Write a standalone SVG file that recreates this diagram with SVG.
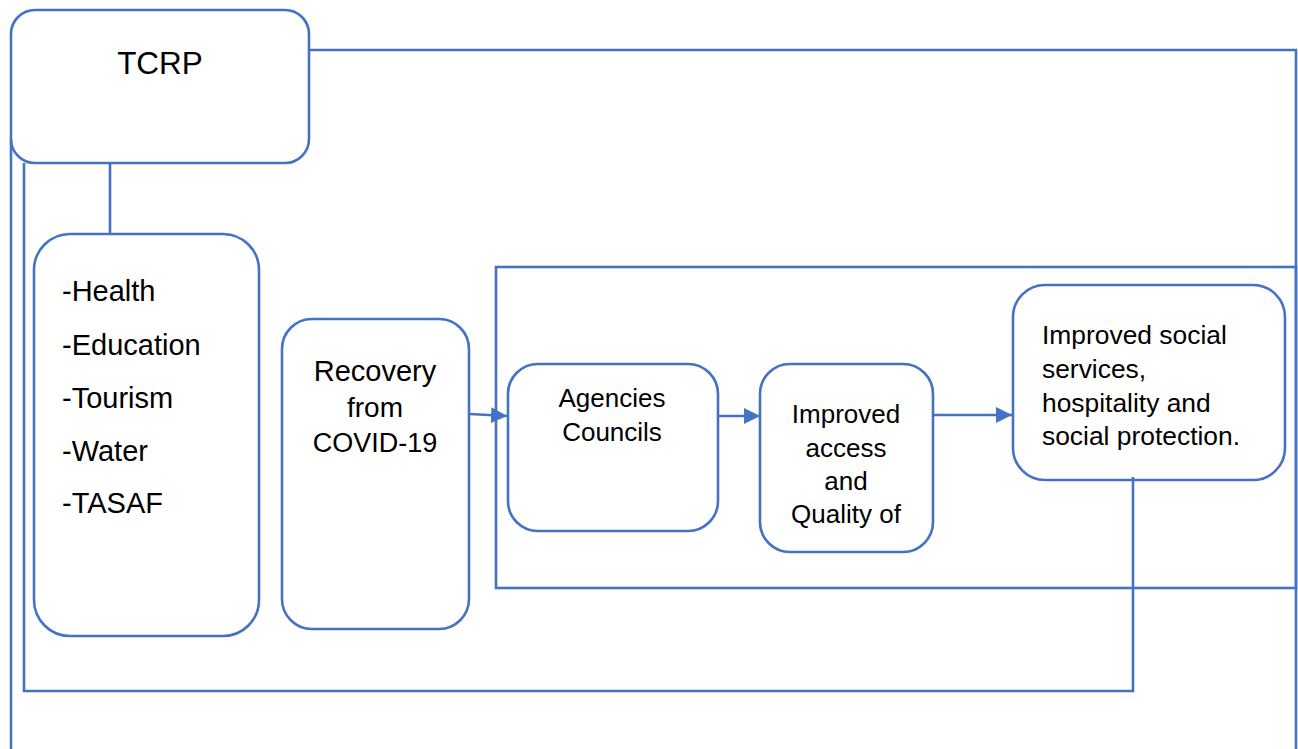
<svg xmlns="http://www.w3.org/2000/svg" width="1298" height="749" viewBox="0 0 1298 749">
<defs>
<style>
.box{fill:none;stroke:#4472C4;stroke-width:2.6}
.ln{fill:none;stroke:#4472C4;stroke-width:2.6}
.t{font-family:"Liberation Sans",Arial,sans-serif;fill:#000}
</style>
<marker id="arr" markerWidth="16" markerHeight="16" refX="16" refY="8" orient="auto" markerUnits="userSpaceOnUse">
<path d="M0,0 L16,8 L0,16 Z" fill="#4472C4"/>
</marker>
</defs>
<rect width="1298" height="749" fill="#fff"/>
<g id="connectors">
<path class="ln" d="M309,50 H1296 V749"/>
<path class="ln" d="M11,140 V749"/>
<path class="ln" d="M24,163 V691 H1133 V477"/>
<path class="ln" d="M110,163 V234"/>
<rect class="ln" x="496" y="267" width="800" height="321"/>
<path class="ln" d="M470,414 L507,416" marker-end="url(#arr)"/>
<path class="ln" d="M718,416 L760,416" marker-end="url(#arr)"/>
<path class="ln" d="M934,415 L1012,415" marker-end="url(#arr)"/>
</g>
<g id="tcrp">
<rect class="box" x="11" y="10" width="298" height="153" rx="24"/>
<text class="t" x="160" y="74" font-size="31.5" text-anchor="middle">TCRP</text>
</g>
<g id="sectors">
<rect class="box" x="34" y="234" width="225" height="402" rx="36"/>
<text class="t" font-size="29" x="62"><tspan x="62" y="301">-Health</tspan><tspan x="62" y="355">-Education</tspan><tspan x="62" y="408">-Tourism</tspan><tspan x="62" y="461">-Water</tspan><tspan x="62" y="513">-TASAF</tspan></text>
</g>
<g id="recovery">
<rect class="box" x="282" y="319" width="187" height="310" rx="30"/>
<text class="t" text-anchor="middle"><tspan x="375" y="381" font-size="29">Recovery</tspan><tspan x="375" y="417" font-size="28">from</tspan><tspan x="375" y="452" font-size="27">COVID-19</tspan></text>
</g>
<g id="agencies">
<rect class="box" x="508" y="364" width="210" height="167" rx="30"/>
<text class="t" font-size="26" text-anchor="middle"><tspan x="612" y="407">Agencies</tspan><tspan x="612" y="441">Councils</tspan></text>
</g>
<g id="access">
<rect class="box" x="760" y="364" width="173" height="188" rx="30"/>
<text class="t" font-size="26" text-anchor="middle"><tspan x="846" y="423">Improved</tspan><tspan x="846" y="457">access</tspan><tspan x="846" y="490">and</tspan><tspan x="846" y="523">Quality of</tspan></text>
</g>
<g id="social">
<rect class="box" x="1013" y="285" width="272" height="195" rx="32"/>
<text class="t" font-size="26.4"><tspan x="1042" y="344">Improved social</tspan><tspan x="1042" y="378">services,</tspan><tspan x="1042" y="412">hospitality and</tspan><tspan x="1042" y="445">social protection.</tspan></text>
</g>
</svg>
